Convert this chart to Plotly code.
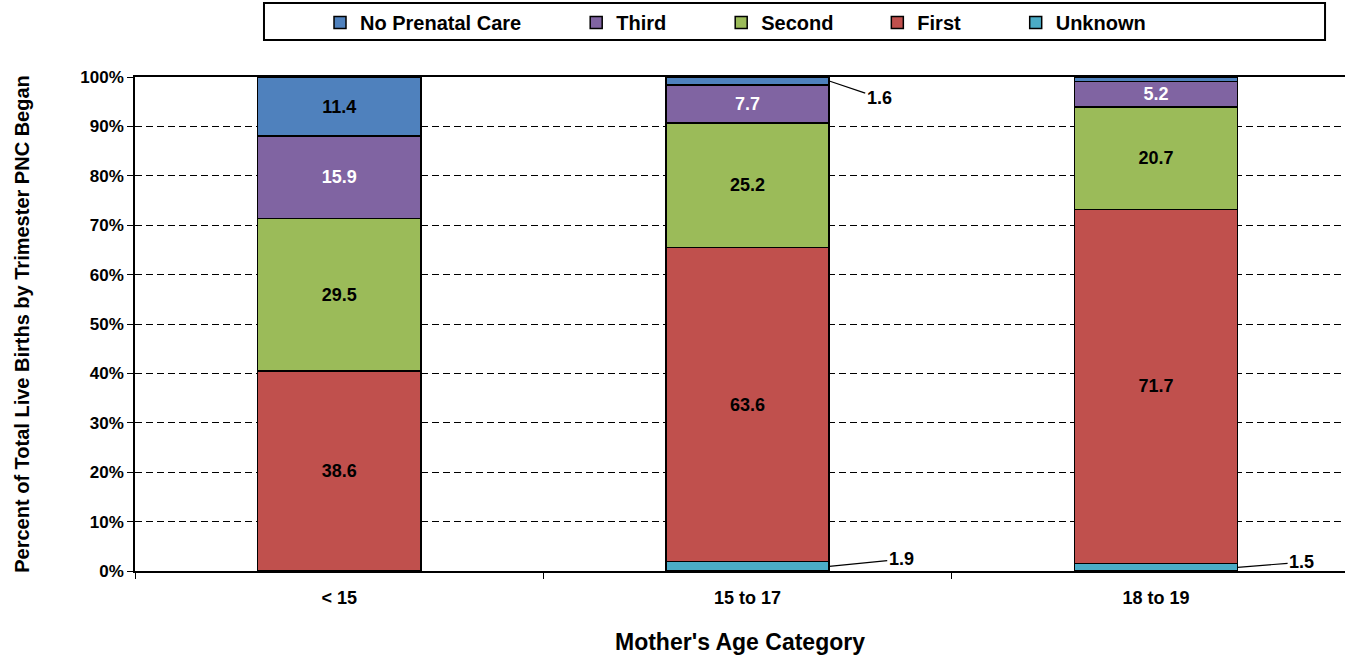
import plotly.graph_objects as go

# ---------------- data ----------------
categories = ["< 15", "15 to 17", "18 to 19"]
series_order = ["Unknown", "First", "Second", "Third", "No Prenatal Care"]  # bottom -> top
unknown = [0.0, 1.9, 1.5]
first = [38.6, 63.6, 71.7]
second = [29.5, 25.2, 20.7]
third = [15.9, 7.7, 5.2]
no_prenatal_care = [11.4, 1.6, 0.9]
y_tick_values = [0, 10, 20, 30, 40, 50, 60, 70, 80, 90, 100]
y_tick_labels = ["0%", "10%", "20%", "30%", "40%", "50%", "60%", "70%", "80%", "90%", "100%"]

values = {
    "Unknown": unknown,
    "First": first,
    "Second": second,
    "Third": third,
    "No Prenatal Care": no_prenatal_care,
}

# ---------------- style ----------------
colors = {
    "Unknown": "#4BACC6",
    "First": "#C0504D",
    "Second": "#9BBB59",
    "Third": "#8064A2",
    "No Prenatal Care": "#4F81BD",
}
label_colors = {
    "Unknown": "black",
    "First": "black",
    "Second": "black",
    "Third": "white",
    "No Prenatal Care": "black",
}
# legend spacing (non-breaking spaces after each name)
legend_pad = {
    "No Prenatal Care": 9,
    "Third": 9,
    "Second": 7,
    "First": 9,
    "Unknown": 0,
}
FONT = "Liberation Sans, Arial, Helvetica, sans-serif"
BAR_WIDTH = 0.4
INSIDE_MIN = 5.0
# callout labels: (series, category index, x offset px, y offset px)
callouts = [
    ("No Prenatal Care", 1, 50, 17),
    ("Unknown", 1, 72, -7),
    ("Unknown", 2, 64, -5),
]


def bold(s):
    return "<b>" + s.replace("<", "&lt;") + "</b>"


fig = go.Figure()
for name in series_order:
    vals = values[name]
    fig.add_trace(go.Bar(
        x=categories,
        y=vals,
        name=name + "\u00a0" * legend_pad[name],
        marker=dict(color=colors[name], line=dict(color="black", width=1.5)),
        text=[f"{v:.1f}" if v >= INSIDE_MIN else "" for v in vals],
        textposition="inside",
        insidetextanchor="middle",
        textangle=0,
        textfont=dict(family=FONT, size=18, color=label_colors[name], weight="bold"),
        hoverinfo="skip",
    ))

# callout annotations with leader lines (positions derived from data)
totals = [sum(values[s][i] for s in series_order) for i in range(len(categories))]
for sname, i, axp, ayp in callouts:
    k = series_order.index(sname)
    below = sum(values[s][i] for s in series_order[:k])
    v = values[sname][i]
    mid = (below + v / 2.0) / totals[i] * 100.0
    fig.add_annotation(
        x=i + BAR_WIDTH / 2, y=mid, xref="x", yref="y",
        text=f"<b>{v:.1f}</b>", showarrow=True, arrowhead=0, arrowwidth=1.2,
        arrowcolor="black", ax=axp, ay=ayp, axref="pixel", ayref="pixel",
        font=dict(family=FONT, size=18, color="black"),
        xanchor="center", yanchor="middle",
    )

# legend frame
fig.add_shape(type="rect", xref="paper", yref="paper",
              x0=0.1066, x1=0.9835, y0=1.0749, y1=1.1498,
              line=dict(color="black", width=2), fillcolor="white", layer="below")

fig.update_layout(
    width=1345, height=659,
    margin=dict(l=135, r=0, t=77, b=88, autoexpand=False),
    paper_bgcolor="white", plot_bgcolor="white",
    barmode="stack", barnorm="percent", bargap=1 - BAR_WIDTH,
    font=dict(family=FONT, color="black"),
    uniformtext=dict(minsize=18, mode="show"),
    showlegend=True,
    legend=dict(
        orientation="h", traceorder="reversed",
        x=0.1529, xanchor="left", y=1.1498, yanchor="top",
        bgcolor="rgba(0,0,0,0)", borderwidth=0,
        font=dict(family=FONT, size=20, color="black", weight="bold"),
    ),
    xaxis=dict(
        type="category", range=[-0.5, 2.463],
        tickvals=categories, ticktext=[bold(c) for c in categories],
        showline=True, linecolor="black", linewidth=1.5, mirror=True,
        ticks="outside", tickson="boundaries", ticklen=6, tickwidth=1.2, tickcolor="black",
        tickfont=dict(family=FONT, size=18, color="black"),
        ticklabelstandoff=10,
        showgrid=False,
        title=dict(text="<b>Mother's Age Category</b>", standoff=27,
                   font=dict(family=FONT, size=23, color="black")),
    ),
    yaxis=dict(
        range=[0, 100], tickvals=y_tick_values, ticktext=[bold(t) for t in y_tick_labels],
        showgrid=True, gridcolor="black", gridwidth=1, griddash="7px,4px",
        zeroline=False,
        showline=True, linecolor="black", linewidth=1.5,
        ticks="outside", ticklen=6, tickwidth=1.2, tickcolor="black",
        tickfont=dict(family=FONT, size=17, color="black"),
        title=dict(text="<b>Percent of Total Live Births by Trimester PNC Began</b>", standoff=45,
                   font=dict(family=FONT, size=20, color="black")),
    ),
)

fig.write_html(
    "out.html",
    config={"displayModeBar": False},
    post_script="document.body.style.margin='0';document.documentElement.style.overflow='hidden';",
)
